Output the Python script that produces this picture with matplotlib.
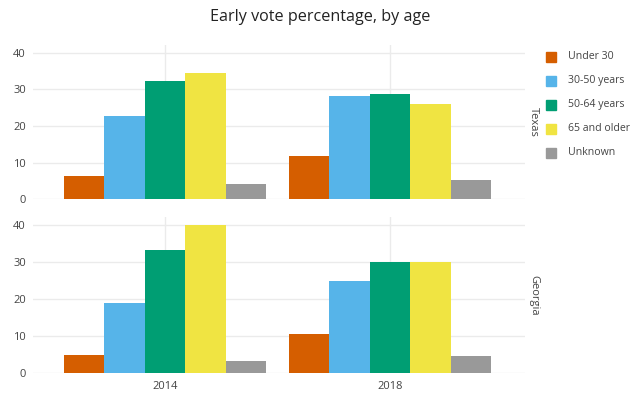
import matplotlib
matplotlib.use("Agg")
import matplotlib.pyplot as plt
import numpy as np
from matplotlib.patches import Rectangle

plt.rcParams['font.family'] = ['Open Sans', 'DejaVu Sans']

years = ["2014", "2018"]
states = ["Texas", "Georgia"]
groups = ["Under 30", "30-50 years", "50-64 years", "65 and older", "Unknown"]
colors = ["#D55E00", "#56B4E9", "#009E73", "#F0E442", "#999999"]

texas = {
    "Under 30": [6.4, 11.9],
    "30-50 years": [22.7, 28.1],
    "50-64 years": [32.2, 28.6],
    "65 and older": [34.4, 25.9],
    "Unknown": [4.1, 5.3],
}
georgia = {
    "Under 30": [4.8, 10.5],
    "30-50 years": [18.9, 24.9],
    "50-64 years": [33.2, 30.0],
    "65 and older": [40.0, 29.9],
    "Unknown": [3.3, 4.5],
}
data = [texas, georgia]
yticks = [0, 10, 20, 30, 40]

fig = plt.figure(figsize=(6.4, 3.97), dpi=100)
W, H = 640, 397
left, right = 33 / W, 525 / W
panels = [(45, 199.3), (217, 373)]

x = np.arange(len(years))
bw = 0.18
tick_color = "#444444"
grid_color = "#EBEBEB"
axes = []
for i, (top, bot) in enumerate(panels):
    ax = fig.add_axes([left, 1 - bot / H, right - left, (bot - top) / H])
    axes.append(ax)
    for j, g in enumerate(groups):
        off = (j - 2) * bw
        ax.bar(x + off, data[i][g], width=bw, color=colors[j], zorder=3,
               label=g if i == 0 else None)
    ax.set_xlim(-0.587, 1.6)
    ax.set_ylim(0, 42.1)
    ax.set_yticks(yticks)
    ax.set_xticks(x)
    for s in ax.spines.values():
        s.set_visible(False)
    ax.grid(True, color=grid_color, linewidth=1, zorder=0)
    ax.tick_params(length=0, labelsize=8, colors=tick_color, pad=6)
    ax.tick_params(axis='y', labelsize=8, pad=5)
    if i == 0:
        ax.set_xticklabels([])
    else:
        ax.set_xticklabels(years)
    ax.text(1.006, 0.5, states[i], transform=ax.transAxes, rotation=-90,
            ha='left', va='center', fontsize=8, color=tick_color)

fig.text(320 / W, 1 - 17 / H, "Early vote percentage, by age", ha='center',
         va='center', fontsize=11.6, color="#222222")

# legend
for j, g in enumerate(groups):
    yc = 56.7 + j * 24
    fig.patches.append(Rectangle(((546) / W, 1 - (yc + 5) / H), 10 / W, 10 / H,
                                 transform=fig.transFigure, color=colors[j]))
    fig.text(568 / W, 1 - yc / H, g, ha='left', va='center', fontsize=7.6,
             color=tick_color)

fig.savefig("out.png", dpi=100, facecolor="white")
